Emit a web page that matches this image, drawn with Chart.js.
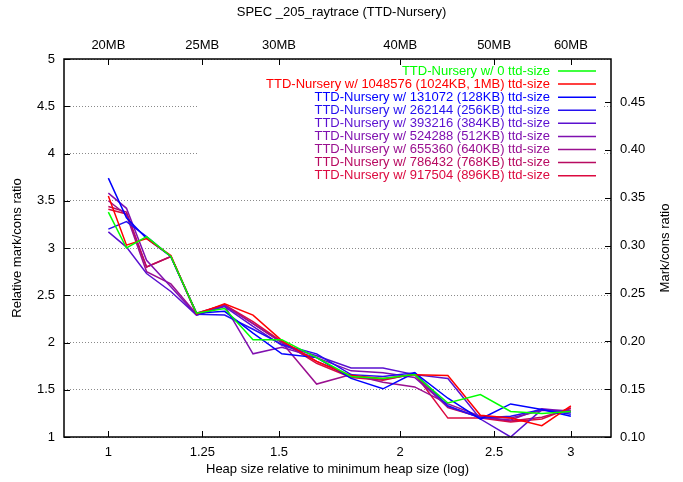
<!DOCTYPE html>
<html>
<head>
<meta charset="utf-8">
<title>SPEC _205_raytrace (TTD-Nursery)</title>
<script src="https://cdn.jsdelivr.net/npm/chart.js@4.4.1/dist/chart.umd.min.js"></script>
<style>
  html, body { margin: 0; padding: 0; background: #fff; }
</style>
</head>
<body>
<canvas id="raytraceChart" width="683" height="482"></canvas>
<script>
// Heap size relative to the minimum heap size (20MB), one entry per run
const heapRatio = [1.0, 1.044, 1.095, 1.16, 1.233, 1.318, 1.41, 1.51, 1.64, 1.78, 1.92, 2.07, 2.24, 2.42, 2.6, 2.8, 3.0];

// Axis ticks
const xTicks = [1, 1.25, 1.5, 2, 2.5, 3];
const heapMBLabels = ['20MB', '25MB', '30MB', '40MB', '50MB', '60MB'];
const yTicks = [1, 1.5, 2, 2.5, 3, 3.5, 4, 4.5, 5];
const y2Ticks = [0.10, 0.15, 0.20, 0.25, 0.30, 0.35, 0.40, 0.45];

// Relative mark/cons ratio per TTD-nursery size
const ttd0      = [3.38, 3.00, 3.12, 2.91, 2.31, 2.36, 2.03, 2.03, 1.84, 1.64, 1.62, 1.66, 1.36, 1.45, 1.27, 1.25, 1.27];
const ttd1024KB = [3.55, 3.03, 3.10, 2.92, 2.30, 2.41, 2.29, 2.02, 1.80, 1.65, 1.62, 1.66, 1.65, 1.23, 1.20, 1.12, 1.33];
const ttd128KB  = [3.74, 3.32, 3.10, 2.91, 2.31, 2.33, 2.10, 1.88, 1.84, 1.62, 1.51, 1.68, 1.41, 1.19, 1.35, 1.29, 1.22];
const ttd256KB  = [3.20, 3.28, 3.12, 2.91, 2.30, 2.29, 2.14, 1.98, 1.88, 1.66, 1.64, 1.68, 1.33, 1.20, 1.22, 1.29, 1.24];
const ttd384KB  = [3.17, 3.01, 2.73, 2.54, 2.29, 2.38, 2.17, 1.97, 1.86, 1.73, 1.73, 1.66, 1.62, 1.19, 1.00, 1.29, 1.26];
const ttd512KB  = [3.58, 3.42, 2.87, 2.59, 2.29, 2.39, 1.88, 1.95, 1.84, 1.70, 1.68, 1.63, 1.32, 1.21, 1.18, 1.30, 1.27];
const ttd640KB  = [3.50, 3.35, 2.75, 2.62, 2.30, 2.39, 2.20, 2.00, 1.56, 1.66, 1.58, 1.53, 1.35, 1.22, 1.20, 1.28, 1.28];
const ttd768KB  = [3.44, 3.38, 2.80, 2.91, 2.31, 2.40, 2.20, 2.00, 1.80, 1.64, 1.61, 1.66, 1.31, 1.21, 1.17, 1.21, 1.30];
const ttd896KB  = [3.41, 3.36, 2.80, 2.91, 2.31, 2.40, 2.22, 2.01, 1.78, 1.63, 1.60, 1.67, 1.20, 1.20, 1.16, 1.19, 1.31];

const seriesNames = [
    'TTD-Nursery w/ 0 ttd-size',
    'TTD-Nursery w/ 1048576 (1024KB, 1MB) ttd-size',
    'TTD-Nursery w/ 131072 (128KB) ttd-size',
    'TTD-Nursery w/ 262144 (256KB) ttd-size',
    'TTD-Nursery w/ 393216 (384KB) ttd-size',
    'TTD-Nursery w/ 524288 (512KB) ttd-size',
    'TTD-Nursery w/ 655360 (640KB) ttd-size',
    'TTD-Nursery w/ 786432 (768KB) ttd-size',
    'TTD-Nursery w/ 917504 (896KB) ttd-size'
];
const seriesValues = [ttd0, ttd1024KB, ttd128KB, ttd256KB, ttd384KB, ttd512KB, ttd640KB, ttd768KB, ttd896KB];
const seriesColors = ['#00ff00', '#ff0000', '#0000ff', '#2410f0', '#5a10d0', '#7f10b0', '#9a1090', '#b80a60', '#dc0a40'];

const FONT = '"Liberation Sans", Arial, Helvetica, sans-serif';
Chart.defaults.font.family = FONT;
Chart.defaults.font.size = 13;
Chart.defaults.color = '#000';

// gnuplot-style frame, inward tick marks, opaque key and right axis title
const gnuplotFrame = {
    id: 'gnuplotFrame',
    beforeDatasetsDraw(chart) {
        const ctx = chart.ctx;
        ctx.save();
        ctx.fillStyle = '#fff';
        ctx.fillRect(197, 61, 407, 121);

        ctx.font = '13px ' + FONT;
        ctx.textAlign = 'right';
        ctx.textBaseline = 'middle';
        ctx.lineWidth = 1.5;
        chart.data.datasets.forEach((ds, i) => {
            const y = 71 + i * 13.08;
            ctx.fillStyle = ds.borderColor;
            ctx.fillText(ds.label, 550, y);
            ctx.strokeStyle = ds.borderColor;
            ctx.beginPath();
            ctx.moveTo(558, y);
            ctx.lineTo(596, y);
            ctx.stroke();
        });
        ctx.restore();
    },
    afterDraw(chart) {
        const ctx = chart.ctx;
        const area = chart.chartArea;
        const s = chart.scales;
        const tick = 6;
        ctx.save();
        ctx.strokeStyle = '#000';
        ctx.lineWidth = 1;
        ctx.beginPath();
        xTicks.forEach(v => {
            const px = Math.round(s.x.getPixelForValue(v)) + 0.5;
            ctx.moveTo(px, area.bottom); ctx.lineTo(px, area.bottom - tick);
            ctx.moveTo(px, area.top); ctx.lineTo(px, area.top + tick);
        });
        yTicks.forEach(v => {
            const py = Math.round(s.y.getPixelForValue(v)) + 0.5;
            ctx.moveTo(area.left, py); ctx.lineTo(area.left + tick, py);
        });
        y2Ticks.forEach(v => {
            const py = Math.round(s.y2.getPixelForValue(v)) + 0.5;
            ctx.moveTo(area.right, py); ctx.lineTo(area.right - tick, py);
        });
        ctx.stroke();

        ctx.lineWidth = 1.5;
        ctx.strokeRect(area.left, area.top, area.right - area.left, area.bottom - area.top);

        ctx.fillStyle = '#000';
        ctx.font = '13px ' + FONT;
        ctx.textAlign = 'center';
        ctx.textBaseline = 'middle';
        ctx.translate(665, (area.top + area.bottom) / 2);
        ctx.rotate(-Math.PI / 2);
        ctx.fillText('Mark/cons ratio', 0, 0);
        ctx.restore();
    }
};

const datasets = seriesNames.map((name, i) => ({
    label: name,
    data: heapRatio.map((x, j) => ({ x: x, y: seriesValues[i][j] })),
    borderColor: seriesColors[i],
    backgroundColor: seriesColors[i],
    borderWidth: 1.5,
    pointRadius: 0,
    tension: 0,
    xAxisID: 'x',
    yAxisID: 'y'
}));

const ctx = document.getElementById('raytraceChart').getContext('2d');

new Chart(ctx, {
    type: 'line',
    data: { datasets: datasets },
    options: {
        responsive: false,
        animation: false,
        layout: { padding: 0 },
        plugins: {
            legend: { display: false },
            tooltip: { enabled: false },
            title: {
                display: true,
                text: 'SPEC _205_raytrace (TTD-Nursery)',
                font: { size: 13, weight: 'normal' },
                color: '#000',
                padding: { top: 5, bottom: 4 }
            }
        },
        scales: {
            x: {
                type: 'logarithmic',
                position: 'bottom',
                min: 0.9,
                max: 3.3,
                afterBuildTicks: scale => { scale.ticks = xTicks.map(v => ({ value: v })); },
                afterFit: scale => { scale.height = 45; },
                grid: { display: false, drawTicks: false },
                border: { display: false },
                ticks: {
                    autoSkip: false,
                    maxRotation: 0,
                    padding: 8,
                    callback: value => String(value)
                },
                title: {
                    display: true,
                    text: 'Heap size relative to minimum heap size (log)',
                    padding: { top: 0, bottom: 5 }
                }
            },
            x2: {
                type: 'logarithmic',
                position: 'top',
                min: 0.9,
                max: 3.3,
                afterBuildTicks: scale => { scale.ticks = xTicks.map(v => ({ value: v })); },
                afterFit: scale => { scale.height = 34.4; },
                grid: { display: false, drawTicks: false },
                border: { display: false },
                ticks: {
                    autoSkip: false,
                    maxRotation: 0,
                    padding: 6,
                    callback: (value, index) => heapMBLabels[index]
                }
            },
            y: {
                type: 'linear',
                position: 'left',
                min: 1,
                max: 5,
                afterBuildTicks: scale => { scale.ticks = yTicks.map(v => ({ value: v })); },
                afterFit: scale => { scale.width = 64; },
                grid: { color: '#8a8a8a', lineWidth: 1, drawTicks: false },
                border: { display: false, dash: [1, 2] },
                ticks: {
                    padding: 9,
                    callback: value => String(value)
                },
                title: {
                    display: true,
                    text: 'Relative mark/cons ratio',
                    padding: { top: 10, bottom: 0 }
                }
            },
            y2: {
                type: 'linear',
                position: 'right',
                min: 0.10,
                max: 0.495,
                afterBuildTicks: scale => { scale.ticks = y2Ticks.map(v => ({ value: v })); },
                afterFit: scale => { scale.width = 72; },
                grid: { display: false, drawTicks: false },
                border: { display: false },
                ticks: {
                    padding: 9,
                    callback: value => value.toFixed(2)
                }
            }
        }
    },
    plugins: [gnuplotFrame]
});
</script>
</body>
</html>
